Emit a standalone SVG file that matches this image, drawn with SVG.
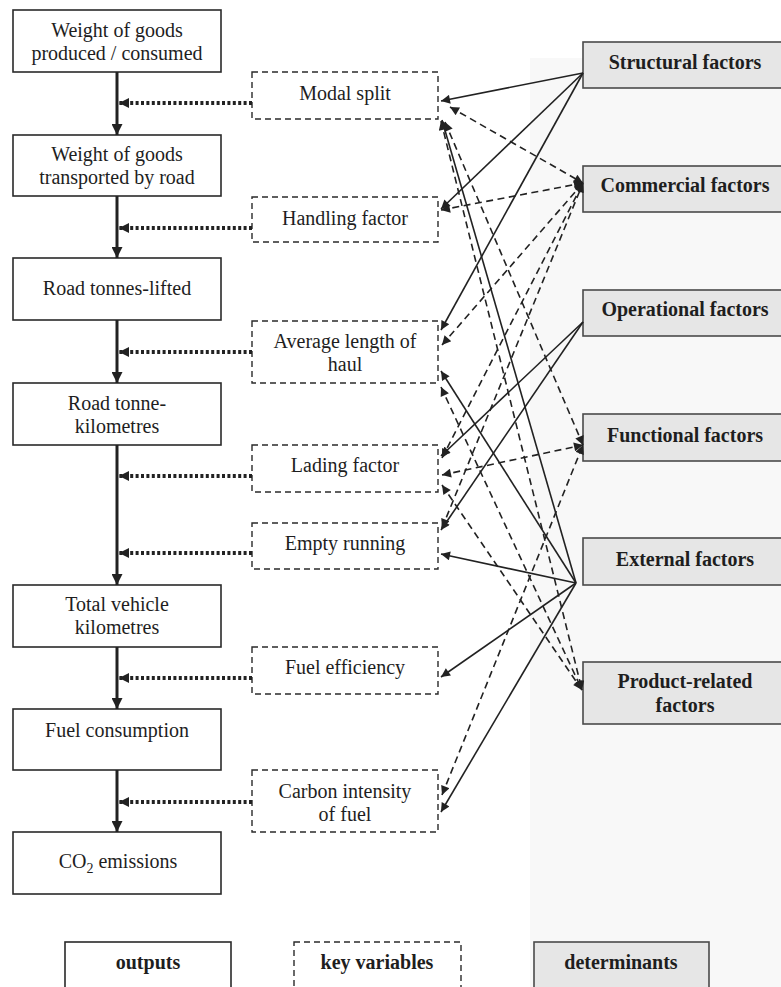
<svg xmlns="http://www.w3.org/2000/svg" width="781" height="987" viewBox="0 0 781 987">
  <style>
    .txt { font-family: "Liberation Serif", "Times New Roman", serif; font-size: 20px; fill: #1e1e1e; text-anchor: middle; }
    .bold { font-weight: bold; }
    .out { fill: #ffffff; stroke: #2a2a2a; stroke-width: 1.6; }
    .key { fill: #ffffff; stroke: #2a2a2a; stroke-width: 1.4; stroke-dasharray: 6 4; }
    .det { fill: #e6e6e6; stroke: #4a4a4a; stroke-width: 1.6; }
    .flow { stroke: #222; stroke-width: 3; fill: none; }
    .dot { stroke: #222; stroke-width: 4; stroke-dasharray: 3 2.4; fill: none; }
    .sol { stroke: #222; stroke-width: 1.6; fill: none; }
    .dsh { stroke: #222; stroke-width: 1.6; stroke-dasharray: 7 4.5; fill: none; }
  </style>
  <defs>
    <marker id="ah" viewBox="0 0 10 10" refX="10" refY="5" markerWidth="12" markerHeight="9" markerUnits="userSpaceOnUse" orient="auto-start-reverse">
      <path d="M0,0 L10,5 L0,10 z" fill="#222"/>
    </marker>
    <marker id="flowHead" viewBox="0 0 10 10" refX="10" refY="5" markerWidth="11" markerHeight="11" markerUnits="userSpaceOnUse" orient="auto">
      <path d="M0,0 L10,5 L0,10 z" fill="#222"/>
    </marker>
    <marker id="dotHead" viewBox="0 0 10 10" refX="10" refY="5" markerWidth="12" markerHeight="10" markerUnits="userSpaceOnUse" orient="auto">
      <path d="M0,0 L10,5 L0,10 z" fill="#222"/>
    </marker>
  </defs>

  <!-- faint panel behind the determinants column -->
  <rect x="530" y="58" width="251" height="929" fill="#f8f8f8"/>

  <!-- outputs -->
  <g id="out-weight-produced">
    <rect class="out" x="13" y="10" width="208" height="62"/>
    <text class="txt" x="117" y="37">Weight of goods</text>
    <text class="txt" x="117" y="60">produced / consumed</text>
  </g>
  <g id="out-weight-road">
    <rect class="out" x="13" y="135" width="208" height="61"/>
    <text class="txt" x="117" y="161">Weight of goods</text>
    <text class="txt" x="117" y="184">transported by road</text>
  </g>
  <g id="out-tonnes-lifted">
    <rect class="out" x="13" y="258" width="208" height="62"/>
    <text class="txt" x="117" y="295">Road tonnes-lifted</text>
  </g>
  <g id="out-tonne-km">
    <rect class="out" x="13" y="383" width="208" height="62"/>
    <text class="txt" x="117" y="410">Road tonne-</text>
    <text class="txt" x="117" y="433">kilometres</text>
  </g>
  <g id="out-vehicle-km">
    <rect class="out" x="13" y="585" width="208" height="62"/>
    <text class="txt" x="117" y="611">Total vehicle</text>
    <text class="txt" x="117" y="634">kilometres</text>
  </g>
  <g id="out-fuel">
    <rect class="out" x="13" y="709" width="208" height="61"/>
    <text class="txt" x="117" y="737">Fuel consumption</text>
  </g>
  <g id="out-co2">
    <rect class="out" x="13" y="832" width="208" height="62"/>
    <text class="txt" x="118" y="868">CO<tspan font-size="14" dy="5">2</tspan><tspan dy="-5"> emissions</tspan></text>
  </g>

  <!-- key variables -->
  <g id="key-modal-split">
    <rect class="key" x="252" y="72" width="186" height="47"/>
    <text class="txt" x="345" y="100">Modal split</text>
  </g>
  <g id="key-handling">
    <rect class="key" x="252" y="197" width="186" height="45"/>
    <text class="txt" x="345" y="225">Handling factor</text>
  </g>
  <g id="key-length-haul">
    <rect class="key" x="252" y="321" width="186" height="62"/>
    <text class="txt" x="345" y="348">Average length of</text>
    <text class="txt" x="345" y="371">haul</text>
  </g>
  <g id="key-lading">
    <rect class="key" x="252" y="445" width="186" height="47"/>
    <text class="txt" x="345" y="472">Lading factor</text>
  </g>
  <g id="key-empty">
    <rect class="key" x="252" y="523" width="186" height="46"/>
    <text class="txt" x="345" y="550">Empty running</text>
  </g>
  <g id="key-fuel-eff">
    <rect class="key" x="252" y="647" width="186" height="47"/>
    <text class="txt" x="345" y="674">Fuel efficiency</text>
  </g>
  <g id="key-carbon">
    <rect class="key" x="252" y="770" width="186" height="62"/>
    <text class="txt" x="345" y="798">Carbon intensity</text>
    <text class="txt" x="345" y="821">of fuel</text>
  </g>

  <!-- determinants -->
  <g id="det-structural">
    <rect class="det" x="583" y="42" width="210" height="46"/>
    <text class="txt bold" x="685" y="69">Structural factors</text>
  </g>
  <g id="det-commercial">
    <rect class="det" x="583" y="166" width="210" height="46"/>
    <text class="txt bold" x="685" y="192">Commercial factors</text>
  </g>
  <g id="det-operational">
    <rect class="det" x="583" y="290" width="210" height="46"/>
    <text class="txt bold" x="685" y="316">Operational factors</text>
  </g>
  <g id="det-functional">
    <rect class="det" x="583" y="414" width="210" height="47"/>
    <text class="txt bold" x="685" y="442">Functional factors</text>
  </g>
  <g id="det-external">
    <rect class="det" x="583" y="538" width="210" height="47"/>
    <text class="txt bold" x="685" y="566">External factors</text>
  </g>
  <g id="det-product">
    <rect class="det" x="583" y="662" width="210" height="62"/>
    <text class="txt bold" x="685" y="688">Product-related</text>
    <text class="txt bold" x="685" y="712">factors</text>
  </g>

  <!-- legend -->
  <g id="legend-outputs">
    <rect class="out" x="65" y="942" width="166" height="60"/>
    <text class="txt bold" x="148" y="969">outputs</text>
  </g>
  <g id="legend-key">
    <rect class="key" x="294" y="942" width="167" height="60"/>
    <text class="txt bold" x="377" y="969">key variables</text>
  </g>
  <g id="legend-det">
    <rect class="det" x="534" y="942" width="175" height="60"/>
    <text class="txt bold" x="621" y="969">determinants</text>
  </g>

  <g id="connectors">
    <!-- output chain -->
    <g marker-end="url(#flowHead)">
      <line class="flow" x1="117" y1="72" x2="117" y2="135"/>
      <line class="flow" x1="117" y1="196" x2="117" y2="258"/>
      <line class="flow" x1="117" y1="320" x2="117" y2="383"/>
      <line class="flow" x1="117" y1="445" x2="117" y2="585"/>
      <line class="flow" x1="117" y1="647" x2="117" y2="709"/>
      <line class="flow" x1="117" y1="770" x2="117" y2="832"/>
    </g>
    <!-- key variables acting on the chain -->
    <g marker-end="url(#dotHead)">
      <line class="dot" x1="252" y1="103" x2="119" y2="103"/>
      <line class="dot" x1="252" y1="228" x2="119" y2="228"/>
      <line class="dot" x1="252" y1="352" x2="119" y2="352"/>
      <line class="dot" x1="252" y1="476" x2="119" y2="476"/>
      <line class="dot" x1="252" y1="553" x2="119" y2="553"/>
      <line class="dot" x1="252" y1="678" x2="119" y2="678"/>
      <line class="dot" x1="252" y1="802" x2="119" y2="802"/>
    </g>
    <!-- solid determinant links -->
    <g marker-end="url(#ah)">
      <line class="sol" x1="583" y1="73" x2="441" y2="101"/>
      <line class="sol" x1="583" y1="73" x2="441" y2="209"/>
      <line class="sol" x1="583" y1="73" x2="441" y2="330"/>
      <line class="sol" x1="583" y1="322" x2="441" y2="456"/>
      <line class="sol" x1="583" y1="322" x2="441" y2="530"/>
      <line class="sol" x1="576" y1="583" x2="442" y2="120"/>
      <line class="sol" x1="576" y1="583" x2="441" y2="371"/>
      <line class="sol" x1="576" y1="583" x2="441" y2="554"/>
      <line class="sol" x1="576" y1="583" x2="441" y2="677"/>
      <line class="sol" x1="576" y1="583" x2="441" y2="812"/>
    </g>
    <!-- dashed two-way links -->
    <g marker-start="url(#ah)" marker-end="url(#ah)">
      <line class="dsh" x1="450" y1="107" x2="583" y2="183"/>
      <line class="dsh" x1="441" y1="210" x2="583" y2="183"/>
      <line class="dsh" x1="442" y1="345" x2="583" y2="183"/>
      <line class="dsh" x1="442" y1="458" x2="583" y2="183"/>
      <line class="dsh" x1="442" y1="528" x2="583" y2="183"/>
      <line class="dsh" x1="445" y1="122" x2="583" y2="445"/>
      <line class="dsh" x1="442" y1="475" x2="583" y2="445"/>
      <line class="dsh" x1="442" y1="795" x2="583" y2="445"/>
      <line class="dsh" x1="441" y1="121" x2="582" y2="690"/>
      <line class="dsh" x1="441" y1="387" x2="582" y2="690"/>
      <line class="dsh" x1="442" y1="485" x2="582" y2="690"/>
    </g>
  </g>
</svg>
